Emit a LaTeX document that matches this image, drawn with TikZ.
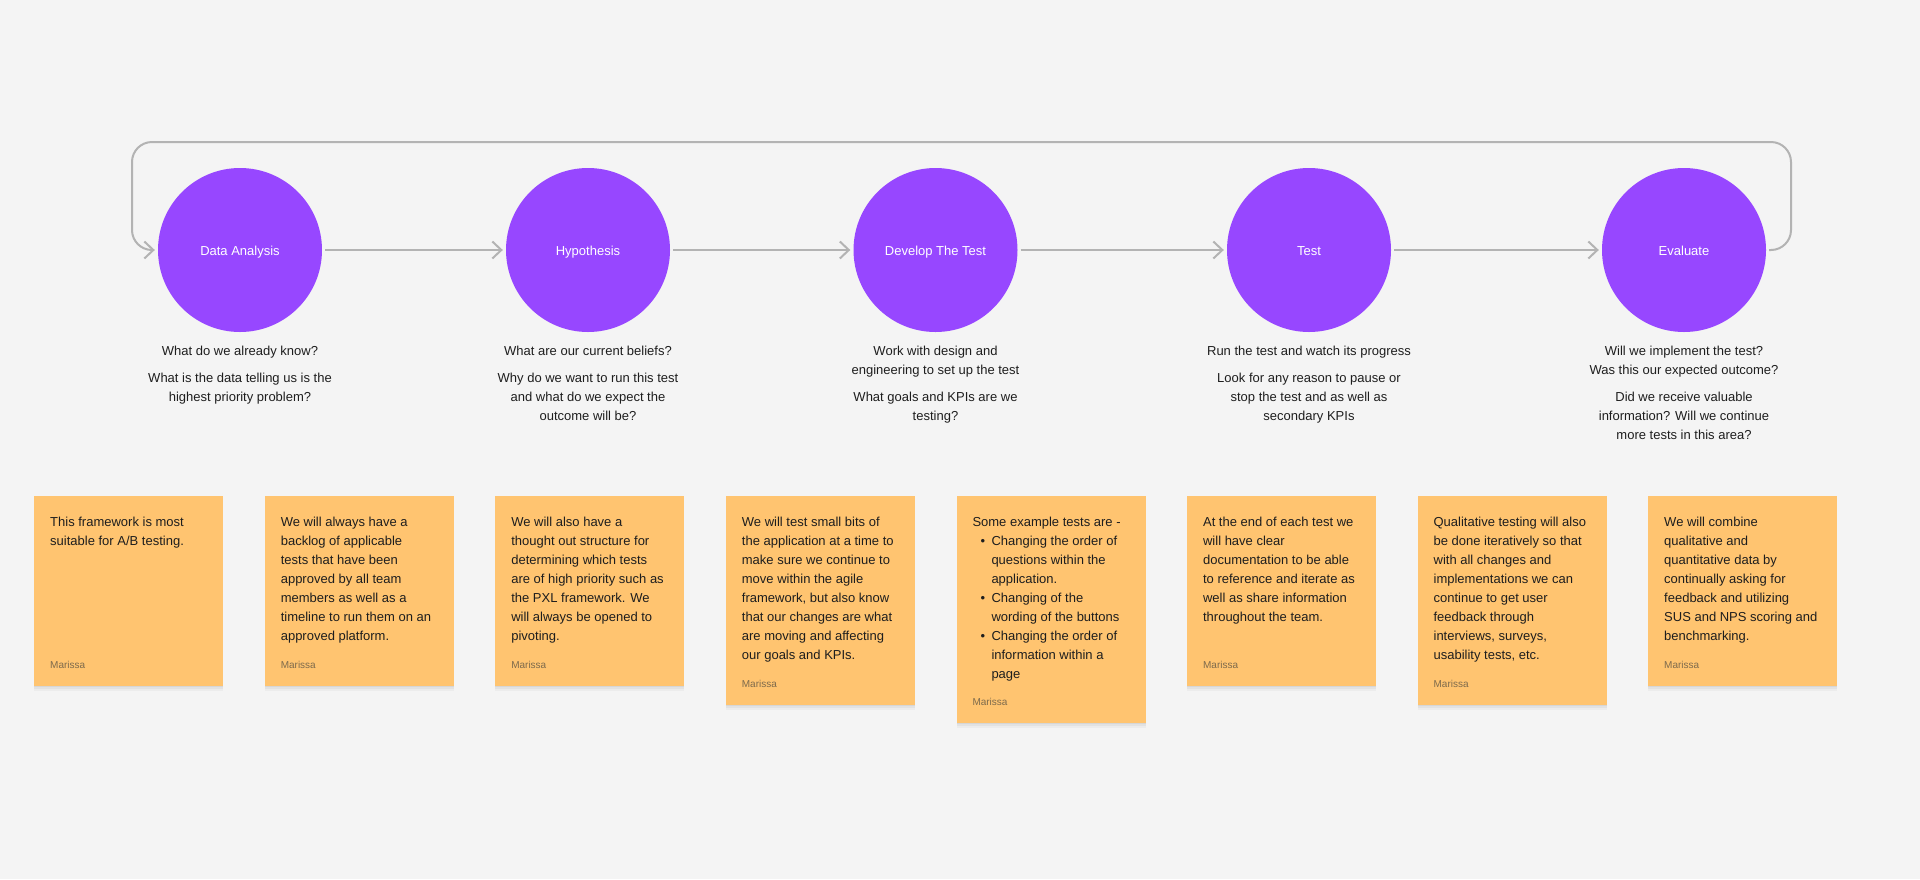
\documentclass[tikz,border=0pt]{standalone}
\usepackage{fontspec}
\setmainfont{Liberation Sans}
\usetikzlibrary{arrows.meta,shadows}
\definecolor{bg}{HTML}{F4F4F4}
\definecolor{stagefill}{HTML}{9747FF}
\definecolor{notefill}{HTML}{FFC470}
\definecolor{ink}{HTML}{1E1E1E}
\definecolor{authorc}{HTML}{7D6A4C}
\definecolor{linec}{HTML}{B3B3B3}
\begin{document}
\begin{tikzpicture}[x=1pt,y=-1pt,
  stage/.style={circle,fill=stagefill,minimum size=164pt,inner sep=0pt,text=white,text height=10pt,text depth=0pt,font=\fontsize{13}{16}\selectfont},
  flow/.style={draw=linec,line width=2pt,shorten >=3pt,shorten <=3pt,-{Straight Barb[length=9pt,width=17pt,line width=2pt]}},
  loopline/.style={draw=linec,line width=2pt,rounded corners=20pt,-{Straight Barb[length=9pt,width=17pt,line width=2pt]}},
  sub/.style={anchor=north,align=center,inner sep=0pt,text=ink,font=\fontsize{13}{19}\selectfont},
  note/.style={anchor=north west,fill=notefill,minimum width=189pt,inner sep=0pt,draw=none,
    drop shadow={shadow xshift=0pt,shadow yshift=-1pt,opacity=0.05,fill=black},
    drop shadow={shadow xshift=0pt,shadow yshift=-3pt,opacity=0.04,fill=black},
    drop shadow={shadow xshift=0pt,shadow yshift=-5pt,opacity=0.03,fill=black}},
  notetext/.style={anchor=north west,align=left,inner sep=0pt,text=ink,font=\fontsize{13}{19}\selectfont},
  author/.style={anchor=base west,inner sep=0pt,text=authorc,font=\fontsize{10}{12}\selectfont}
]
\fill[bg] (0,0) rectangle (1920,879);
\useasboundingbox (0,0) rectangle (1920,879);

% stages
\node[stage] (da) at (240,250) {Data Analysis};
\node[stage] (hy) at (588,250) {Hypothesis};
\node[stage] (dt) at (935.5,250) {Develop The Test};
\node[stage] (te) at (1309,250) {Test};
\node[stage] (ev) at (1684,250) {Evaluate};

\draw[flow] (da) -- (hy);
\draw[flow] (hy) -- (dt);
\draw[flow] (dt) -- (te);
\draw[flow] (te) -- (ev);

\coordinate (loopR) at (1791,142);
\coordinate (loopL) at (132,250);
\draw[loopline] ([xshift=3pt]ev.east) -| (loopR) -| (loopL) -- ([xshift=-3pt]da.west);

% subtitles
\node[sub] (da-t) at (240,342.2) {\strut What do we already know?\\[7.7pt]What is the data telling us is the\\highest priority problem?};
\node[sub] (hy-t) at (588,342.2) {\strut What are our current beliefs?\\[7.7pt]Why do we want to run this test\\and what do we expect the\\outcome will be?};
\node[sub] (dt-t) at (935.5,342.2) {\strut Work with design and\\engineering to set up the test\\[7.7pt]What goals and KPIs are we\\testing?};
\node[sub] (te-t) at (1309,342.2) {\strut Run the test and watch its progress\\[7.7pt]Look for any reason to pause or\\stop the test and as well as\\secondary KPIs};
\node[sub] (ev-t) at (1684,342.2) {\strut Will we implement the test?\\Was this our expected outcome?\\[7.7pt]Did we receive valuable\\information? Will we continue\\more tests in this area?};

% notes
\node[note,minimum height=190pt] (n1) at (34,496) {};
\node[note,minimum height=190pt] (n2) at (264.6,496) {};
\node[note,minimum height=190pt] (n3) at (495.1,496) {};
\node[note,minimum height=209pt] (n4) at (725.7,496) {};
\node[note,minimum height=227pt] (n5) at (956.3,496) {};
\node[note,minimum height=190pt] (n6) at (1186.9,496) {};
\node[note,minimum height=209pt] (n7) at (1417.4,496) {};
\node[note,minimum height=190pt] (n8) at (1648,496) {};

\node[notetext] (n1t) at ([shift={(16,17)}]n1.north west) {\strut This framework is most\\suitable for A/B testing.};
\node[notetext] (n2t) at ([shift={(16,17)}]n2.north west) {\strut We will always have a\\backlog of applicable\\tests that have been\\approved by all team\\members as well as a\\timeline to run them on an\\approved platform.};
\node[notetext] (n3t) at ([shift={(16,17)}]n3.north west) {\strut We will also have a\\thought out structure for\\determining which tests\\are of high priority such as\\the PXL framework. We\\will always be opened to\\pivoting.};
\node[notetext] (n4t) at ([shift={(16,17)}]n4.north west) {\strut We will test small bits of\\the application at a time to\\make sure we continue to\\move within the agile\\framework, but also know\\that our changes are what\\are moving and affecting\\our goals and KPIs.};
\node[notetext] (n5t) at ([shift={(16,17)}]n5.north west) {\strut Some example tests are -\\
\makebox[19pt][l]{\hspace*{8pt}•}Changing the order of\\\hspace*{19pt}questions within the\\\hspace*{19pt}application.\\
\makebox[19pt][l]{\hspace*{8pt}•}Changing of the\\\hspace*{19pt}wording of the buttons\\
\makebox[19pt][l]{\hspace*{8pt}•}Changing the order of\\\hspace*{19pt}information within a\\\hspace*{19pt}page};
\node[notetext] (n6t) at ([shift={(16,17)}]n6.north west) {\strut At the end of each test we\\will have clear\\documentation to be able\\to reference and iterate as\\well as share information\\throughout the team.};
\node[notetext] (n7t) at ([shift={(16,17)}]n7.north west) {\strut Qualitative testing will also\\be done iteratively so that\\with all changes and\\implementations we can\\continue to get user\\feedback through\\interviews, surveys,\\usability tests, etc.};
\node[notetext] (n8t) at ([shift={(16,17)}]n8.north west) {\strut We will combine\\qualitative and\\quantitative data by\\continually asking for\\feedback and utilizing\\SUS and NPS scoring and\\benchmarking.};

\node[author] (n1a) at ([shift={(16,-17.5)}]n1.south west) {Marissa};
\node[author] (n2a) at ([shift={(16,-17.5)}]n2.south west) {Marissa};
\node[author] (n3a) at ([shift={(16,-17.5)}]n3.south west) {Marissa};
\node[author] (n4a) at ([shift={(16,-17.5)}]n4.south west) {Marissa};
\node[author] (n5a) at ([shift={(16,-17.5)}]n5.south west) {Marissa};
\node[author] (n6a) at ([shift={(16,-17.5)}]n6.south west) {Marissa};
\node[author] (n7a) at ([shift={(16,-17.5)}]n7.south west) {Marissa};
\node[author] (n8a) at ([shift={(16,-17.5)}]n8.south west) {Marissa};
\end{tikzpicture}
\end{document}
